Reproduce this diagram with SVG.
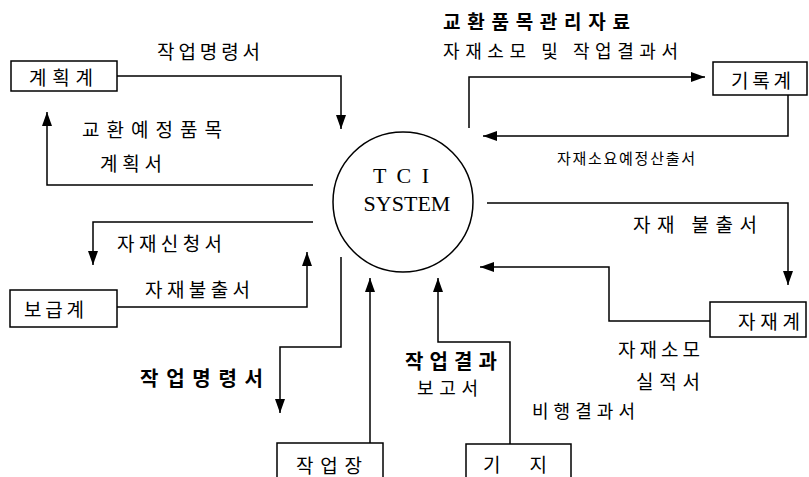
<svg xmlns="http://www.w3.org/2000/svg" width="809" height="477" viewBox="0 0 809 477">
<defs>
<marker id="ah" markerUnits="userSpaceOnUse" markerWidth="14" markerHeight="10" refX="14" refY="5" orient="auto"><path d="M0,0 L14,5 L0,10 z" fill="#000"/></marker>
<style>
.box{fill:#fff;stroke:#000;stroke-width:1.5}
.ln{fill:none;stroke:#000;stroke-width:1.5;marker-end:url(#ah)}
text{font-family:"Noto Sans CJK KR","Noto Sans",sans-serif;font-size:19px;fill:#000;dominant-baseline:central}
.b{font-weight:bold}
.c{text-anchor:middle}
.s15{font-size:15px}
.s18{font-size:18px}
.s20{font-size:20px}
.sys{font-family:"Liberation Serif",serif;font-size:22px}
</style>
</defs>
<rect width="809" height="477" fill="#fff"/>
<g id="connectors">
<polyline class="ln" points="117,76 341,76 341,129"/>
<polyline class="ln" points="313,185 47,185 47,112"/>
<polyline class="ln" points="469,128 469,77 705,77"/>
<polyline class="ln" points="788,95 788,136 483,136"/>
<polyline class="ln" points="313,222 93,222 93,265"/>
<polyline class="ln" points="117,307 307,307 307,252"/>
<polyline class="ln" points="341,257 341,347 280,347 280,413"/>
<polyline class="ln" points="370,443 370,278"/>
<polyline class="ln" points="510,444 510,342 438,342 438,278"/>
<polyline class="ln" points="487,203 788,203 788,285"/>
<polyline class="ln" points="710,321 609,321 609,267 480,267"/>
</g>
<g id="labels">
<text x="157" y="50" textLength="103" lengthAdjust="spacing">작업명령서</text>
<text x="82" y="128" textLength="140" lengthAdjust="spacing">교환예정품목</text>
<text x="100" y="162" textLength="62" lengthAdjust="spacing">계획서</text>
<text class="b" x="443" y="20" textLength="187" lengthAdjust="spacing">교환품목관리자료</text>
<text class="s18" x="443" y="50" textLength="235" lengthAdjust="spacing">자재소모 및 작업결과서</text>
<text class="s15" x="557" y="157" textLength="138" lengthAdjust="spacing">자재소요예정산출서</text>
<text x="117" y="242" textLength="105" lengthAdjust="spacing">자재신청서</text>
<text x="145" y="288" textLength="105" lengthAdjust="spacing">자재불출서</text>
<text x="633" y="223" textLength="124" lengthAdjust="spacing">자재 불출서</text>
<text class="b s20" x="140" y="377" textLength="123" lengthAdjust="spacing">작업명령서</text>
<text class="b s20" x="405" y="360" textLength="92" lengthAdjust="spacing">작업결과</text>
<text class="s18" x="417" y="387" textLength="61" lengthAdjust="spacing">보고서</text>
<text class="s18" x="532" y="410" textLength="103" lengthAdjust="spacing">비행결과서</text>
<text x="618" y="348" textLength="82" lengthAdjust="spacing">자재소모</text>
<text x="636" y="380" textLength="64" lengthAdjust="spacing">실적서</text>
</g>
<g id="tci">
<circle cx="403" cy="202" r="70" fill="none" stroke="#000" stroke-width="1.5"/>
<text class="sys c" x="401" y="175" textLength="56" lengthAdjust="spacing">T C I</text>
<text class="sys c" x="407" y="203">SYSTEM</text>
</g>
<g id="n-plan"><rect class="box" x="11" y="61" width="106" height="30"/><text x="29" y="76" textLength="64" lengthAdjust="spacing">계획계</text></g>
<g id="n-record"><rect class="box" x="713" y="62" width="94" height="33"/><text x="731" y="79" textLength="60" lengthAdjust="spacing">기록계</text></g>
<g id="n-supply"><rect class="box" x="10" y="290" width="107" height="37"/><text x="24" y="308" textLength="60" lengthAdjust="spacing">보급계</text></g>
<g id="n-material"><rect class="box" x="710" y="302" width="96" height="35"/><text x="738" y="320" textLength="62" lengthAdjust="spacing">자재계</text></g>
<g id="n-workshop"><rect class="box" x="277" y="443" width="106" height="40"/><text x="296" y="464" textLength="66" lengthAdjust="spacing">작업장</text></g>
<g id="n-base"><rect class="box" x="466" y="444" width="105" height="40"/><text x="483" y="463" textLength="64" lengthAdjust="spacing">기 지</text></g>
</svg>
